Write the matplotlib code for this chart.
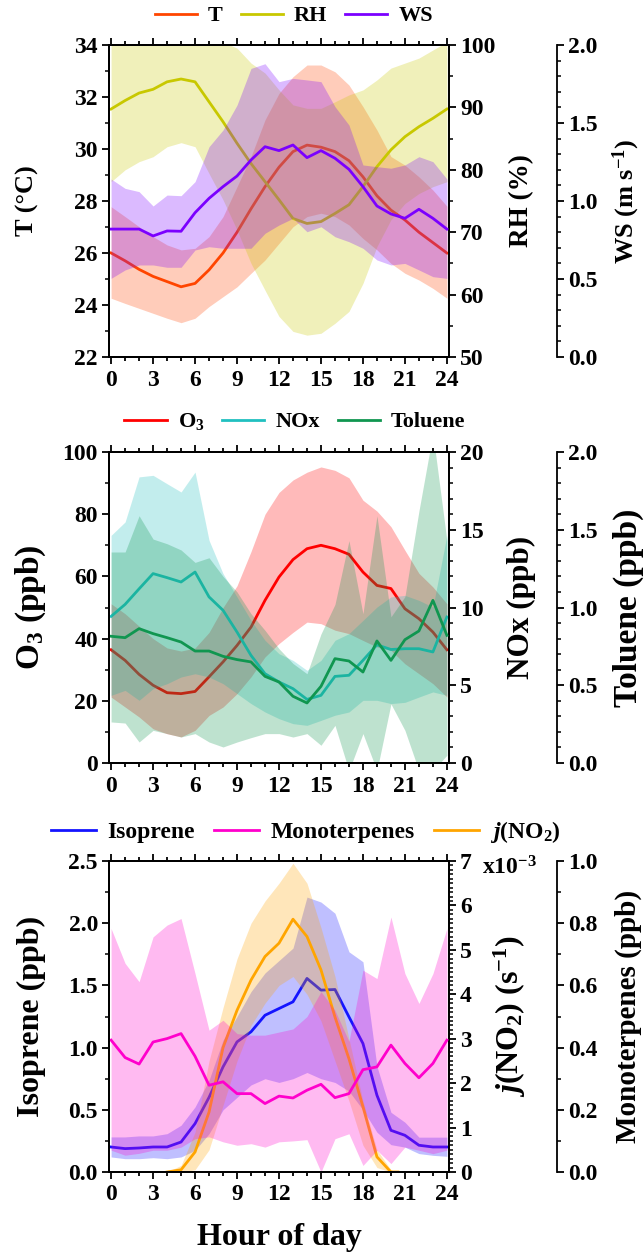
import matplotlib
matplotlib.use('Agg')
import matplotlib.pyplot as plt
from matplotlib.ticker import MultipleLocator

plt.rcParams['font.family'] = 'Liberation Serif'
plt.rcParams['font.weight'] = 'bold'
plt.rcParams['axes.labelweight'] = 'bold'
plt.rcParams['mathtext.fontset'] = 'custom'
plt.rcParams['mathtext.rm'] = 'Liberation Serif:bold'
plt.rcParams['mathtext.it'] = 'Liberation Serif:italic:bold'
plt.rcParams['mathtext.bf'] = 'Liberation Serif:bold'
plt.rcParams['font.size'] = 17
plt.rcParams['axes.linewidth'] = 1.3

hours = list(range(25))

# panel 1 : met
T = [26.0, 25.7, 25.37, 25.1, 24.9, 24.7, 24.83, 25.35, 26.0, 26.8, 27.7, 28.55, 29.3,
     29.9, 30.15, 30.07, 29.9, 29.55, 28.93, 28.2, 27.65, 27.27, 26.8, 26.4, 26.0]
T_hi = [27.78, 27.4, 27.01, 26.63, 26.31, 26.12, 26.18, 26.63, 27.4, 28.55, 29.71, 31.12, 32.14,
        32.78, 33.23, 33.23, 32.97, 32.46, 31.63, 30.73, 29.71, 29.38, 28.93, 28.42, 27.8]
T_lo = [24.26, 24.06, 23.87, 23.68, 23.49, 23.32, 23.49, 23.94, 24.32, 24.7, 25.22, 25.73, 26.37,
        27.01, 27.4, 27.53, 27.4, 27.08, 26.56, 26.12, 25.6, 25.22, 24.96, 24.64, 24.26]
RH = [89.74, 91.1, 92.3, 92.9, 94.1, 94.55, 94.1, 90.9, 87.7, 84.25, 81.0, 78.1, 75.2,
      72.2, 71.4, 71.7, 73.0, 74.4, 77.3, 80.5, 83.2, 85.3, 86.9, 88.25, 89.74]
RH_hi = [100.5, 100.5, 100.5, 100.5, 100.5, 100.5, 100.5, 100.5, 100.5, 99.5, 97.1, 95.5, 92.8,
         90.4, 89.85, 89.85, 90.9, 92.0, 92.8, 94.4, 96.3, 97.1, 97.9, 99.2, 100.5]
RH_lo = [78.1, 80.0, 81.3, 82.1, 83.7, 84.35, 83.7, 79.4, 75.2, 70.35, 65.0, 60.7, 56.5,
         54.1, 53.5, 53.8, 55.4, 57.3, 61.8, 67.7, 72.0, 74.6, 76.2, 77.3, 78.1]
WS = [0.82, 0.82, 0.82, 0.776, 0.808, 0.806, 0.925, 1.017, 1.092, 1.16, 1.263, 1.348, 1.323,
      1.359, 1.278, 1.323, 1.274, 1.203, 1.092, 0.968, 0.917, 0.889, 0.947, 0.889, 0.82]
WS_hi = [1.141, 1.081, 1.06, 0.968, 1.038, 1.034, 1.124, 1.348, 1.455, 1.615, 1.85, 1.88, 1.765,
         1.786, 1.776, 1.765, 1.605, 1.487, 1.231, 1.22, 1.21, 1.231, 1.284, 1.252, 1.141]
WS_lo = [0.504, 0.558, 0.59, 0.59, 0.575, 0.575, 0.686, 0.707, 0.697, 0.697, 0.697, 0.793, 0.846,
         0.889, 0.803, 0.835, 0.771, 0.739, 0.697, 0.622, 0.59, 0.60, 0.558, 0.515, 0.504]

# panel 2 : O3, NOx, toluene
O3 = [36.4, 33.0, 28.5, 25.0, 22.6, 22.3, 23.0, 27.7, 32.5, 37.8, 43.7, 52.3, 59.8,
      65.4, 68.9, 70.0, 68.9, 67.1, 61.4, 57.1, 56.1, 49.6, 46.4, 42.1, 36.4]
O3_hi = [51.2, 48.0, 44.0, 40.0, 37.0, 36.0, 37.0, 42.0, 50.0, 57.0, 68.0, 80.0, 87.0,
         91.0, 93.5, 95.2, 94.1, 91.7, 84.5, 81.0, 76.0, 68.4, 61.0, 56.6, 51.2]
O3_lo = [21.2, 18.0, 14.8, 11.0, 9.4, 8.4, 10.5, 15.3, 18.0, 22.3, 27.7, 34.1, 38.4,
         42.0, 45.3, 44.8, 42.7, 41.6, 39.4, 37.3, 36.2, 31.9, 28.7, 25.5, 21.2]
NOx = [9.43, 10.2, 11.2, 12.18, 11.92, 11.64, 12.28, 10.68, 9.82, 8.42, 6.92, 5.74, 5.21,
       4.78, 4.09, 4.35, 5.57, 5.64, 6.6, 7.6, 7.3, 7.35, 7.35, 7.14, 9.39]
NOx_hi = [14.64, 15.5, 18.4, 18.5, 17.96, 17.43, 18.71, 14.32, 12.18, 10.68, 9.17, 7.89, 7.03,
          6.6, 5.96, 6.6, 7.89, 8.32, 9.17, 10.03, 10.68, 10.78, 10.46, 10.03, 14.64]
NOx_lo = [4.35, 4.67, 4.03, 4.78, 5.1, 5.53, 5.74, 5.53, 5.1, 4.46, 3.82, 3.28, 2.85,
          2.53, 2.42, 2.74, 3.07, 3.28, 4.03, 4.03, 3.82, 3.9, 4.24, 4.57, 4.35]
Tol = [0.815, 0.806, 0.864, 0.832, 0.806, 0.778, 0.72, 0.72, 0.686, 0.665, 0.65, 0.557, 0.521,
       0.429, 0.386, 0.493, 0.671, 0.656, 0.585, 0.785, 0.66, 0.793, 0.849, 1.046, 0.821]
Tol_hi = [1.357, 1.357, 1.59, 1.44, 1.41, 1.37, 1.29, 1.32, 1.2, 1.1, 0.96, 0.853, 0.735,
          0.64, 0.574, 0.83, 1.02, 1.43, 0.96, 1.59, 0.94, 1.07, 1.62, 2.12, 1.43]
Tol_lo = [0.264, 0.257, 0.135, 0.21, 0.189, 0.167, 0.189, 0.135, 0.103, 0.135, 0.163, 0.189, 0.189,
          0.167, 0.189, 0.114, 0.242, -0.05, 0.189, -0.05, 0.38, 0.21, -0.05, -0.05, 0.05]

# panel 3 : isoprene, monoterpenes, j(NO2)
Iso = [0.201, 0.188, 0.193, 0.201, 0.201, 0.241, 0.389, 0.6, 0.845, 1.046, 1.127, 1.26, 1.314,
       1.368, 1.556, 1.462, 1.467, 1.247, 1.033, 0.617, 0.335, 0.295, 0.215, 0.201, 0.201]
Iso_hi = [0.282, 0.282, 0.29, 0.29, 0.308, 0.376, 0.523, 0.738, 1.06, 1.25, 1.45, 1.6, 1.7,
          1.8, 2.21, 2.17, 2.08, 1.77, 1.69, 0.85, 0.48, 0.40, 0.28, 0.28, 0.28]
Iso_lo = [0.121, 0.107, 0.107, 0.115, 0.107, 0.121, 0.174, 0.308, 0.5, 0.6, 0.7, 0.75, 0.72,
          0.75, 0.8, 0.75, 0.72, 0.65, 0.5, 0.32, 0.22, 0.2, 0.148, 0.134, 0.126]
Mono = [0.424, 0.368, 0.347, 0.418, 0.429, 0.445, 0.372, 0.279, 0.29, 0.252, 0.252, 0.22, 0.244,
        0.238, 0.263, 0.282, 0.239, 0.252, 0.329, 0.338, 0.408, 0.349, 0.303, 0.349, 0.424]
Mono_hi = [0.783, 0.671, 0.612, 0.756, 0.794, 0.815, 0.638, 0.456, 0.488, 0.445, 0.44, 0.44, 0.45,
           0.46, 0.5, 0.58, 0.52, 0.42, 0.649, 0.622, 0.82, 0.638, 0.542, 0.638, 0.783]
Mono_lo = [0.07, 0.054, 0.06, 0.07, 0.07, 0.08, 0.107, 0.113, 0.097, 0.086, 0.091, 0.08, 0.097,
           0.1, 0.104, 0.0, 0.107, 0.123, 0.021, 0.07, 0.027, 0.08, 0.07, 0.059, 0.07]
hours_j = [4, 5, 6, 7, 8, 9, 10, 11, 12, 13, 14, 15, 16, 17, 18, 19, 20, 20.5]
jNO2 = [0.0, 0.05, 0.45, 1.35, 2.8, 3.64, 4.32, 4.85, 5.15, 5.69, 5.3, 4.55, 3.49, 2.55, 1.47, 0.34, 0.0, 0.0]  # x1e-3
jNO2_hi = [0.0, 0.15, 0.9, 2.5, 3.7, 4.8, 5.6, 6.1, 6.5, 6.95, 6.5, 5.5, 4.4, 3.0, 1.6, 0.5, 0.05, 0.0]
jNO2_lo = [0.0, 0.0, 0.05, 0.5, 1.5, 2.5, 3.3, 3.8, 4.2, 4.4, 4.0, 3.4, 2.5, 1.6, 0.6, 0.1, 0.0, 0.0]

W, H = 644, 1258
fig = plt.figure(figsize=(W / 100, H / 100), dpi=100)


def make_axes(top, bottom):
    return fig.add_axes([109 / W, 1 - bottom / H, 340 / W, (bottom - top) / H])


def band(ax, x, y, lo, hi, c):
    ax.fill_between(x, lo, hi, color=c, alpha=0.27, lw=0)
    return ax.plot(x, y, color=c, lw=2.0)[0]


def yfmt(ax, lim, major, minor, fmt=None):
    ax.set_ylim(*lim)
    ax.yaxis.set_major_locator(MultipleLocator(major))
    ax.yaxis.set_minor_locator(MultipleLocator(minor))
    if fmt:
        ax.yaxis.set_major_formatter(plt.FormatStrFormatter(fmt))
    ax.tick_params(axis='y', which='major', length=5, width=1.3, pad=3, labelsize=17)
    ax.tick_params(axis='y', which='minor', length=3, width=1.1)


def ylab(ax, text, x, size):
    ax.set_ylabel(text, fontsize=size)
    ax.yaxis.set_label_coords(x, 0.5)
    ax.yaxis.label.set_verticalalignment('center')


def third(ax):
    a = ax.twinx()
    a.spines['right'].set_position(('axes', (557 - 109) / 340))
    return a


def xfmt(ax):
    ax.set_xlim(-0.15, 24.15)
    ax.xaxis.set_major_locator(MultipleLocator(3))
    ax.xaxis.set_minor_locator(MultipleLocator(1))
    ax.tick_params(axis='x', which='both', top=True, direction='out', width=1.3)
    ax.tick_params(axis='x', which='major', length=5, pad=4, labelsize=17)
    ax.tick_params(axis='x', which='minor', length=3)


def legend(handles, labels, cx, cy, size):
    fig.legend(handles, labels, loc='center', bbox_to_anchor=(cx / W, 1 - cy / H), ncol=3,
               frameon=False, fontsize=size, handlelength=1.9, handletextpad=0.5,
               columnspacing=0.8)


# ---- panel 1
ax1 = make_axes(45, 357)
l1 = band(ax1, hours, T, T_lo, T_hi, '#FF4500')
xfmt(ax1)
yfmt(ax1, (22, 34), 2, 1)
ylab(ax1, 'T (°C)', (27 - 109) / 340, 19)
ax2 = ax1.twinx()
l2 = band(ax2, hours, RH, RH_lo, RH_hi, '#C8C800')
yfmt(ax2, (50, 100), 10, 5)
ylab(ax2, 'RH (%)', (522 - 109) / 340, 19.5)
ax3 = third(ax1)
l3 = band(ax3, hours, WS, WS_lo, WS_hi, '#7B00FF')
yfmt(ax3, (0, 2), 0.5, 0.1, '%.1f')
ylab(ax3, 'WS (m s$^{-1}$)', (626 - 109) / 340, 19)
legend([l1, l2, l3], ['T', 'RH', 'WS'], 294, 16, 16)

# ---- panel 2
bx1 = make_axes(452, 763)
m1 = band(bx1, hours, O3, O3_lo, O3_hi, '#FF0000')
xfmt(bx1)
yfmt(bx1, (0, 100), 20, 10)
ylab(bx1, 'O$_3$ (ppb)', (31 - 109) / 340, 24)
bx2 = bx1.twinx()
m2 = band(bx2, hours, NOx, NOx_lo, NOx_hi, '#20C0C0')
yfmt(bx2, (0, 20), 5, 1)
ylab(bx2, 'NOx (ppb)', (521 - 109) / 340, 22.5)
bx3 = third(bx1)
m3 = band(bx3, hours, Tol, Tol_lo, Tol_hi, '#109650')
yfmt(bx3, (0, 2), 0.5, 0.1, '%.1f')
ylab(bx3, 'Toluene (ppb)', (628 - 109) / 340, 24)
legend([m1, m2, m3], ['O$_3$', 'NOx', 'Toluene'], 295, 422, 16)

# ---- panel 3
cx1 = make_axes(861, 1172)
n1 = band(cx1, hours, Iso, Iso_lo, Iso_hi, '#1414FF')
xfmt(cx1)
yfmt(cx1, (0, 2.5), 0.5, 0.25, '%.1f')
ylab(cx1, 'Isoprene (ppb)', (31 - 109) / 340, 23)
cx1.set_xlabel('Hour of day', fontsize=23)
cx1.xaxis.set_label_coords(0.5, (1172 - 1237) / 311)
cx1.xaxis.label.set_verticalalignment('center')
cx2 = cx1.twinx()
n3 = band(cx2, hours_j, jNO2, jNO2_lo, jNO2_hi, '#FFA500')
yfmt(cx2, (0, 7), 1, 0.1)
ylab(cx2, '$\\mathit{j}$(NO$_2$) (s$^{-1}$)', (510 - 109) / 340, 23)
cx3 = third(cx1)
n2 = band(cx3, hours, Mono, Mono_lo, Mono_hi, '#FF00CC')
yfmt(cx3, (0, 1), 0.2, 0.1, '%.1f')
ylab(cx3, 'Monoterpenes (ppb)', (628 - 109) / 340, 21)
fig.text(482 / W, 1 - 868 / H, 'x10$^{-3}$', ha='left', va='center', fontsize=17)
legend([n1, n2, n3], ['Isoprene', 'Monoterpenes', '$\\mathit{j}$(NO$_2$)'], 306, 832, 17)

fig.savefig('out.png', dpi=100)
